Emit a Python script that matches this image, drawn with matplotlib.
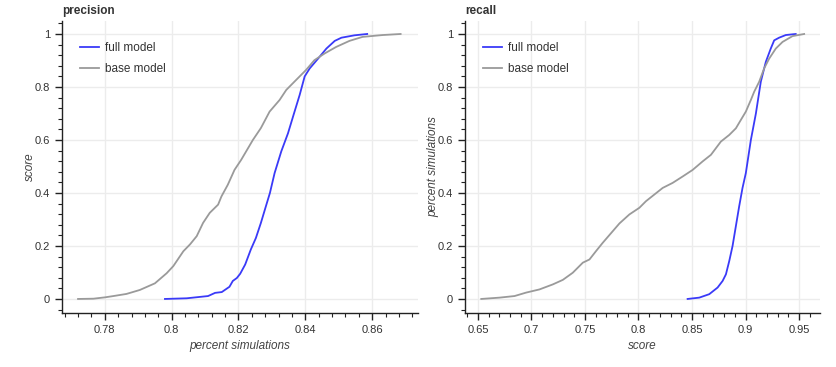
import numpy as np
import matplotlib
matplotlib.use('Agg')
import matplotlib.pyplot as plt
from matplotlib.ticker import MultipleLocator, FuncFormatter

plt.rcParams['font.family'] = ['Liberation Sans', 'DejaVu Sans']

# precision curves (x = value, y = cumulative fraction)
prec_full_x = [0.798, 0.8045, 0.8109, 0.813, 0.815, 0.8173, 0.8183, 0.8195, 0.8205, 0.822,
               0.8237, 0.8252, 0.8267, 0.8282, 0.8294, 0.8308, 0.8328, 0.8348, 0.8366, 0.8383,
               0.8398, 0.8413, 0.8438, 0.8463, 0.8488, 0.8508, 0.8547, 0.8585]
prec_full_y = [0.0, 0.0025, 0.011, 0.023, 0.026, 0.046, 0.068, 0.079, 0.095, 0.13,
               0.187, 0.23, 0.287, 0.35, 0.40, 0.475, 0.557, 0.625, 0.70, 0.77,
               0.84, 0.87, 0.907, 0.945, 0.974, 0.986, 0.995, 1.0]
prec_base_x = [0.772, 0.7766, 0.78, 0.7826, 0.7865, 0.7905, 0.795, 0.7985, 0.8005, 0.8035,
               0.8055, 0.8075, 0.8094, 0.8114, 0.8139, 0.8149, 0.8168, 0.8188, 0.8208, 0.8243,
               0.8267, 0.8293, 0.8323, 0.8343, 0.8372, 0.8402, 0.8427, 0.8457, 0.8492, 0.8532,
               0.8571, 0.8631, 0.8685]
prec_base_y = [0.0, 0.001, 0.006, 0.011, 0.019, 0.034, 0.059, 0.097, 0.124, 0.18,
               0.206, 0.237, 0.287, 0.325, 0.356, 0.387, 0.431, 0.487, 0.525, 0.60,
               0.645, 0.707, 0.751, 0.789, 0.826, 0.864, 0.901, 0.926, 0.951, 0.974,
               0.989, 0.996, 1.0]

# recall curves
rec_full_x = [0.8459, 0.8568, 0.8661, 0.8739, 0.8786, 0.8817, 0.8848, 0.8879, 0.891, 0.8941,
              0.8972, 0.9003, 0.905, 0.9097, 0.9143, 0.919, 0.9236, 0.9268, 0.9314, 0.9376,
              0.9469]
rec_full_y = [0.0, 0.005, 0.018, 0.043, 0.068, 0.093, 0.143, 0.2, 0.275, 0.35,
              0.419, 0.475, 0.60, 0.70, 0.82, 0.895, 0.945, 0.976, 0.986, 0.996,
              1.0]
rec_base_x = [0.6531, 0.6702, 0.6842, 0.695, 0.7075, 0.72, 0.7293, 0.7386, 0.748, 0.7542,
              0.7604, 0.7666, 0.776, 0.7822, 0.7915, 0.8008, 0.807, 0.8148, 0.8226, 0.8319,
              0.8412, 0.8506, 0.8599, 0.8677, 0.877, 0.8848, 0.891, 0.8957, 0.9003, 0.905,
              0.9081, 0.9128, 0.9174, 0.9221, 0.9283, 0.9346, 0.9439, 0.9548]
rec_base_y = [0.0, 0.005, 0.011, 0.024, 0.036, 0.055, 0.072, 0.099, 0.137, 0.149,
              0.181, 0.212, 0.256, 0.285, 0.319, 0.344, 0.369, 0.394, 0.419, 0.438,
              0.462, 0.487, 0.519, 0.544, 0.594, 0.619, 0.644, 0.676, 0.707, 0.751,
              0.782, 0.82, 0.87, 0.907, 0.945, 0.97, 0.992, 1.0]

BLUE = '#3a3af8'
GRAY = '#9a9a9a'


def style(ax, title, xlabel, ylabel, xmaj, xmin):
    ax.set_title(title, loc='left', fontsize=8.5, fontweight='bold', color='#333333', pad=5)
    ax.set_xlabel(xlabel, fontsize=8.5, style='italic', color='#444444', labelpad=4)
    ax.set_ylabel(ylabel, fontsize=8.5, style='italic', color='#444444', labelpad=-1)
    for s in ('top', 'right'):
        ax.spines[s].set_visible(False)
    for s in ('left', 'bottom'):
        ax.spines[s].set_linewidth(1)
        ax.spines[s].set_color('#222222')
    ax.xaxis.set_major_locator(MultipleLocator(xmaj))
    ax.xaxis.set_minor_locator(MultipleLocator(xmin))
    ax.yaxis.set_major_locator(MultipleLocator(0.2))
    ax.yaxis.set_minor_locator(MultipleLocator(0.04))
    fmt = FuncFormatter(lambda v, p: '{:g}'.format(round(v, 4)))
    ax.xaxis.set_major_formatter(fmt)
    ax.yaxis.set_major_formatter(fmt)
    ax.tick_params(which='major', length=5, width=1, direction='out', labelsize=8,
                   colors='#222222', labelcolor='#333333')
    ax.tick_params(which='minor', length=3, width=0.8, direction='out', colors='#222222')
    ax.grid(True, which='major', color='#ececec', linewidth=1)
    ax.set_axisbelow(True)
    ax.set_ylim(-0.053, 1.049)
    leg = ax.legend(loc='upper left', frameon=False, fontsize=8.5, handlelength=1.6,
                    handletextpad=0.5, labelspacing=0.75,
                    bbox_to_anchor=(0.02, 0.965))
    for t in leg.get_texts():
        t.set_color('#333333')


fig = plt.figure(figsize=(8.36, 3.67), dpi=100)
ax1 = fig.add_axes([62 / 836, 1 - 313 / 367, (418 - 62) / 836, (313 - 21) / 367])
ax2 = fig.add_axes([465 / 836, 1 - 313 / 367, (820 - 465) / 836, (313 - 21) / 367])

ax1.plot(prec_full_x, prec_full_y, color=BLUE, lw=1.3, label='full model')
ax1.plot(prec_base_x, prec_base_y, color=GRAY, lw=1.3, label='base model')
ax1.set_xlim(0.7672, 0.8737)
style(ax1, 'precision', 'percent simulations', 'score', 0.02, 0.004)

ax2.plot(rec_full_x, rec_full_y, color=BLUE, lw=1.3, label='full model')
ax2.plot(rec_base_x, rec_base_y, color=GRAY, lw=1.3, label='base model')
ax2.set_xlim(0.6379, 0.9696)
style(ax2, 'recall', 'score', 'percent simulations', 0.05, 0.01)

fig.savefig('out.png', dpi=100)
